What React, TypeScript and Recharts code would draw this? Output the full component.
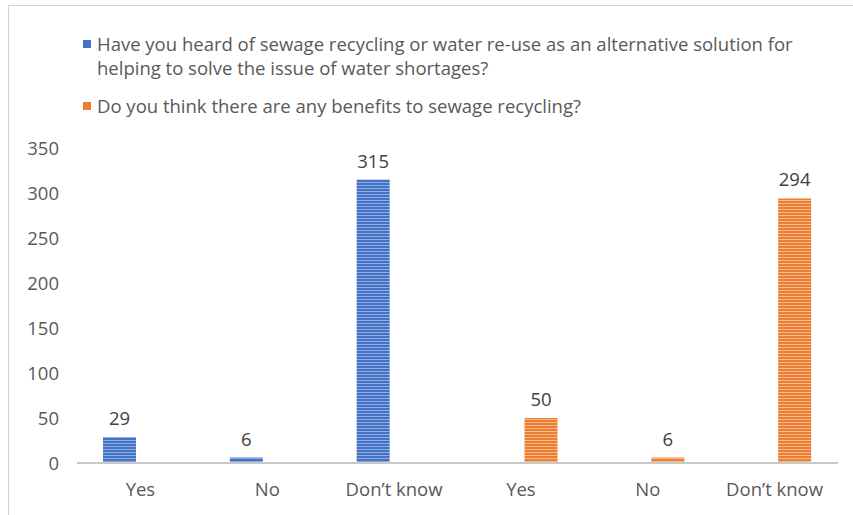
import { BarChart, Bar, XAxis, YAxis, LabelList } from "recharts";

const categories = ["Yes", "No", "Don\u2019t know", "Yes", "No", "Don\u2019t know"];
const heardValues = [29, 6, 315, null, null, null];
const benefitValues = [null, null, null, 50, 6, 294];
const yTicks = [0, 50, 100, 150, 200, 250, 300, 350];
const seriesNames = [
	"Have you heard of sewage recycling or water re-use as an alternative solution for helping to solve the issue of water shortages?",
	"Do you think there are any benefits to sewage recycling?",
];
const seriesColors = ["#4472C4", "#ED7D31"];

const data = categories.map((label, i) => ({
	label,
	heard: heardValues[i],
	benefit: benefitValues[i],
}));

const font = "'Open Sans', sans-serif";
const textColor = "#595959";
const fs = 18.5;

const App = () => {
	return (
		<div
			style={{
				position: "absolute",
				left: 0,
				top: 0,
				width: 853,
				height: 515,
				background: "#fff",
				fontFamily: font,
			}}
		>
			<div
				style={{
					position: "absolute",
					left: 8,
					top: 5,
					right: 0,
					bottom: 0,
					borderTop: "1px solid #d4d4d4",
					borderLeft: "1px solid #d4d4d4",
				}}
			/>
			<div
				style={{
					position: "absolute",
					left: 83,
					top: 32,
					width: 740,
					color: textColor,
					fontSize: fs,
					lineHeight: "24px",
				}}
			>
				{seriesNames.map((name, i) => (
					<div
						key={name}
						style={{
							position: "relative",
							paddingLeft: 14,
							marginBottom: i === 0 ? 14 : 0,
						}}
					>
						<span
							style={{
								position: "absolute",
								left: 0,
								top: 8,
								width: 8,
								height: 8,
								background: seriesColors[i],
							}}
						/>
						{name}
					</div>
				))}
			</div>
			<BarChart
				width={853}
				height={515}
				data={data}
				margin={{ top: 148, right: 15, bottom: 22, left: 17 }}
				barSize={33}
				barGap={8}
				style={{ position: "absolute", left: 0, top: 0 }}
			>
				<defs>
					<pattern id="stripeBlue" width="6" height="3" patternUnits="userSpaceOnUse">
						<rect width="6" height="3" fill="#4472C4" />
						<rect y="2" width="6" height="1" fill="#8FAAE0" />
					</pattern>
					<pattern id="stripeOrange" width="6" height="3" patternUnits="userSpaceOnUse">
						<rect width="6" height="3" fill="#ED7D31" />
						<rect y="2" width="6" height="1" fill="#F6B98C" />
					</pattern>
				</defs>
				<XAxis
					dataKey="label"
					tickLine={false}
					axisLine={{ stroke: "#c8c8c8", strokeWidth: 2 }}
					tick={{ fill: textColor, fontSize: fs, fontFamily: font }}
					tickMargin={14}
					interval={0}
					height={30}
				/>
				<YAxis
					domain={[0, 350]}
					ticks={yTicks}
					axisLine={false}
					tickLine={false}
					width={60}
					tickMargin={12}
					tick={{ fill: textColor, fontSize: fs, fontFamily: font }}
				/>
				<Bar dataKey="heard" fill="url(#stripeBlue)" isAnimationActive={false}>
					<LabelList
						dataKey="heard"
						position="top"
						offset={12}
						fill="#404040"
						fontSize={fs}
						fontFamily={font}
					/>
				</Bar>
				<Bar dataKey="benefit" fill="url(#stripeOrange)" isAnimationActive={false}>
					<LabelList
						dataKey="benefit"
						position="top"
						offset={12}
						fill="#404040"
						fontSize={fs}
						fontFamily={font}
					/>
				</Bar>
			</BarChart>
		</div>
	);
};

export default App;
